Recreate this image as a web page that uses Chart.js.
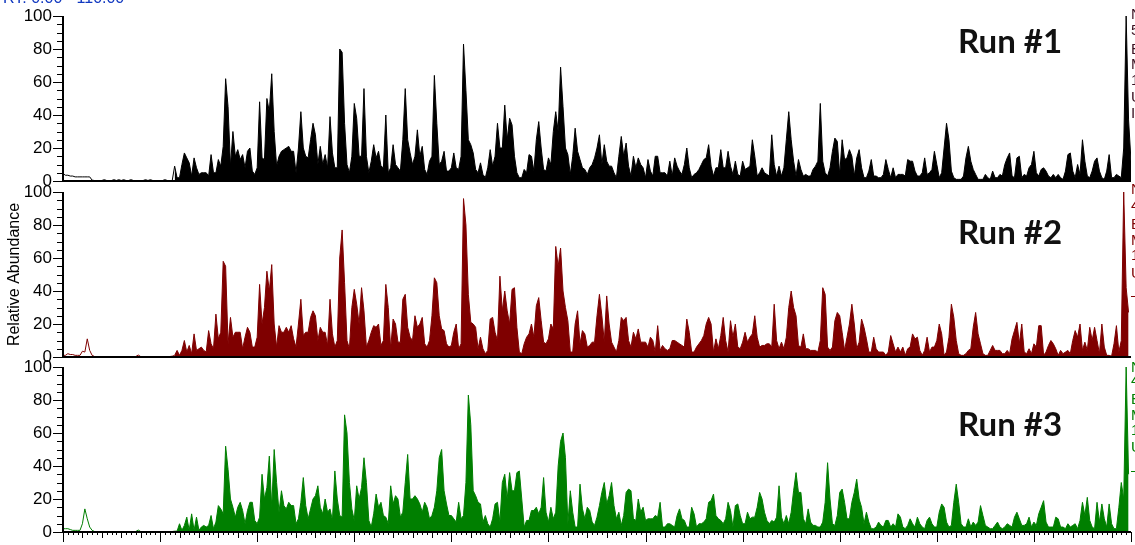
<!DOCTYPE html>
<html>
<head>
<meta charset="utf-8">
<title>Run chromatograms</title>
<script src="https://cdn.jsdelivr.net/npm/chart.js@4"></script>
<style>
    html, body { margin: 0; padding: 0; background: #fff; overflow: hidden; }
    #page { position: relative; width: 1135px; height: 545px; overflow: hidden; }
    canvas { position: absolute; left: 0; }
    .run { position: absolute; left: 958px; font: bold 33px Lato, sans-serif; color: #111; line-height: 40px; }
    .side { position: absolute; left: 1131px; font: 15px "Liberation Sans", Arial, sans-serif; line-height: 16px; }
    #rt { position: absolute; left: 3px; top: -11px; font: 16px "Liberation Sans", Arial, sans-serif; line-height: 18px; color: #1038c0; white-space: nowrap; }
</style>
</head>
<body>
<div id="page">
    <canvas id="run1" width="1135" height="192" style="top:0"></canvas>
    <canvas id="run2" width="1135" height="192" style="top:176px"></canvas>
    <canvas id="run3" width="1135" height="194" style="top:351px"></canvas>
    <div id="rt">RT: 0.00 - 110.00</div>
</div>
<script>
const binWidth = 0.25   // minutes per value
const rtMin = 0
const rtMax = 110
const yTickLabels = [0, 20, 40, 60, 80, 100]

// first part of each trace is only drawn as an outline
const run1Early = [4.5,3.5,3.5,3,3,2.5,2.5,2.5,2.5,2.5,2.5,2.5,0.5,0.3,0.3,0.3,0.3,0.8,0.3,0.3,0.3,0.8,0.3,0.8,0.3,0.8,0.3,0.3,0.8,0.3,0.3,0.3,0.3,0.3,0.8,0.3,0.8,0.3,0.3,0.3,0.3,0.3,0.8,0.3,0.3,0.3]
const run2Early = [1,1,2,1.5,1.5,1,1,1,3.5,3,11,4,1,0.3,0.3,0.3,0.3,0.3,0.3,0.3,0.3,0.3,0.3,0.3,0.3,0.3,0.3,0.3,0.3,0.3,0.3,1.2,0.3,0.3,0.3,0.3,0.3,0.3,0.3,0.3,0.3,0.3,0.3,0.3,0.3,0.5]
const run3Early = [2,2,2,1.5,1,1,1,1,5,14,8,3,1,0.3,0.3,0.3,0.3,0.3,0.3,0.3,0.3,0.3,0.3,0.3,0.3,0.3,0.3,0.3,0.3,0.3,0.3,1.2,0.3,0.3,0.3,0.3,0.3,0.3,0.3,0.3,0.3,0.3,0.3,0.3,0.3,0.3]

const run1Peaks = [
    9,2,2,10,17,14,11,3,14,8,4,5,5,5,3,16,5,5,13,9,21,62,45,9,30,15,19,13,16,8,18,20,6,4,8,48,14,13,50,42,
    65,30,9,15,18,19,20,21,18,18,5,20,42,20,15,14,25,35,28,10,21,10,16,8,39,17,8,8,80,78,35,10,5,15,47,38,15,15,56,15,
    5,12,22,14,18,9,8,40,5,8,22,10,8,6,25,56,25,17,10,15,31,15,21,7,4,12,15,64,35,10,12,18,6,6,8,17,8,7,15,83,
    55,25,22,17,7,5,11,4,2,8,19,9,15,35,20,20,46,25,38,34,15,5,2,2,7,5,16,15,6,25,36,20,7,6,14,10,30,42,30,69,
    45,20,16,4,15,32,18,13,8,7,4,8,10,14,20,28,10,22,12,9,9,5,2,15,27,15,23,9,3,15,8,14,10,8,2,13,6,3,15,15,
    5,5,5,3,12,3,14,9,6,4,10,20,8,2,4,5,7,10,13,14,22,9,3,8,8,19,8,8,18,9,4,12,4,3,12,7,8,9,25,15,3,5,
    8,5,4,3,28,10,3,9,3,8,25,42,25,12,3,13,7,3,4,3,3,7,9,12,47,12,5,3,8,18,26,24,4,25,13,14,19,15,3,14,19,8,2,2,
    6,13,3,3,2,2,4,13,7,2,8,2,4,4,4,3,13,12,12,6,3,3,5,14,4,5,7,18,10,2,5,20,35,25,6,2,1,1,1,3,14,21,12,7,4,1,
    1,1,4,2,1,6,2,2,4,3,10,14,17,3,2,14,15,2,4,3,8,10,18,5,3,7,8,6,3,2,4,2,4,2,1,6,16,17,6,2,10,4,25,12,3,2,6,12,14,6,
    2,1,6,16,2,2,4,3,2,20,100,37,12
]
const run2Peaks = [
    1,4,1,4,10,3,7,2,14,4,5,6,4,3,16,8,5,26,11,15,58,55,8,24,12,15,15,15,5,12,18,15,6,6,12,44,20,30,52,40,
    56,20,6,19,15,15,18,15,19,11,6,20,35,13,15,15,24,28,25,10,18,15,15,7,35,14,6,10,60,77,45,10,5,30,41,32,20,42,28,6,
    10,15,19,18,20,7,10,44,30,5,23,20,9,9,35,38,18,12,10,25,18,20,24,8,6,10,25,48,45,25,17,16,8,6,7,15,20,5,8,96,
    80,38,21,20,18,5,12,5,2,4,23,24,15,10,49,28,40,28,20,41,42,18,3,2,8,12,14,20,12,31,36,22,9,8,11,20,17,67,55,66,
    40,30,22,3,3,20,28,8,16,14,6,7,9,9,25,38,25,9,37,20,9,6,3,10,24,22,24,10,6,15,11,17,9,9,9,6,12,10,3,19,
    4,7,5,4,5,10,10,9,8,7,6,23,15,3,3,6,8,10,13,20,24,20,3,11,5,13,24,10,3,22,12,20,6,5,9,15,9,12,14,25,
    12,6,7,7,8,8,6,32,10,5,9,5,12,30,40,30,25,7,6,14,5,5,
    4,4,4,3,10,42,38,6,4,6,22,27,25,15,4,12,20,32,20,5,9,23,18,11,3,3,12,5,3,3,3,1,3,13,8,3,6,3,6,1,5,6,14,11,12,4,1,4,12,3,
    6,6,10,20,14,1,3,12,32,24,10,2,1,1,2,4,5,18,27,14,8,2,1,1,4,7,4,4,4,2,2,4,2,11,16,21,8,20,3,2,5,2,8,6,19,19,1,3,7,10,
    8,5,1,4,2,3,4,2,10,16,12,20,4,9,4,18,10,18,10,2,20,6,1,1,0.5,8,19,3,10,100,42,27
]
const run3Peaks = [
    0.5,0.5,5,1,4,9,1,11,1,9,1,3,4,3,4,10,2,6,16,14,11,52,38,20,15,9,15,18,13,5,13,18,18,7,5,9,35,20,27,46,
    15,50,30,12,25,16,14,18,16,16,5,8,18,33,16,8,14,20,22,28,15,11,20,12,14,7,37,20,10,9,71,60,30,14,7,28,20,27,45,30,
    7,3,11,23,15,18,10,9,5,28,17,22,20,9,12,30,47,20,20,22,20,17,12,18,15,8,10,15,25,45,50,25,17,10,10,8,6,18,8,10,
    30,83,65,25,22,18,17,6,10,5,3,8,17,18,6,30,35,20,36,25,25,36,37,20,3,7,7,13,13,15,11,15,33,12,6,15,8,12,40,55,
    60,45,5,25,12,3,3,29,14,8,15,13,6,4,9,16,24,30,17,22,30,16,8,12,4,10,24,26,25,8,7,20,12,15,7,8,8,8,10,9,
    18,3,3,5,5,4,3,10,14,8,7,3,3,15,11,3,5,5,6,8,18,19,23,10,8,7,5,8,18,13,3,16,17,10,5,5,12,8,9,9,15,24,20,12,7,5,7,6,9,28,9,5,10,5,12,25,36,24,24,8,5,14,
    6,4,4,3,3,6,18,42,20,5,4,10,24,26,18,8,8,18,24,32,20,15,5,12,6,2,2,3,6,4,3,7,7,3,5,3,11,9,3,2,4,8,5,3,9,5,3,2,7,9,
    5,3,3,12,17,15,6,3,4,18,29,18,5,3,3,8,3,6,4,6,16,10,4,3,2,2,4,6,3,2,3,5,4,3,9,12,8,4,4,5,9,3,
    6,4,11,15,19,6,3,3,3,9,8,3,3,2,5,3,4,5,2,7,18,10,21,7,3,2,18,6,17,8,3,17,5,2,2,15,30,20,100,35
]

const run1Values = run1Early.concat(run1Peaks)
const run2Values = run2Early.concat(run2Peaks)
const run3Values = run3Early.concat(run3Peaks)

const runLabels = ['Run #1', 'Run #2', 'Run #3']
const runLabelTops = [20, 211, 403]
const runColors = ['#000000', '#7f0000', '#007f00']
const runSideLetters = [
    ['N', '5', 'B', 'M', '1', 'U', 'I'],
    ['N', '4', 'B', 'M', '1', 'U', '–'],
    ['N', '4', 'B', 'M', '1', 'U', '–']
]
const runSideTops = [
    [6, 22, 41, 56, 72, 89, 105],
    [181, 197, 216, 232, 247, 265, 287],
    [359, 372, 391, 407, 422, 439, 462]
]

function toPoints(values, from, to) {
    let points = []
    for (let i = from; i < to && i < values.length; i++)
        points.push({ x: i * binWidth, y: values[i] })
    return points
}

// axis lines and the tick marks of different length
const tickMarks = {
    id: 'tickMarks',
    afterDraw(chart, args, opts) {
        const ctx = chart.ctx
        const yScale = chart.scales.y
        const xScale = chart.scales.x
        const left = chart.chartArea.left
        const bottom = yScale.getPixelForValue(0)

        ctx.save()
        ctx.strokeStyle = '#000'
        ctx.lineWidth = 1

        for (let v = 0; v <= 100; v += 5) {
            const y = Math.round(yScale.getPixelForValue(v)) + 0.5
            const len = v % 20 == 0 ? 10 : 6
            ctx.beginPath()
            ctx.moveTo(left - len, y)
            ctx.lineTo(left, y)
            ctx.stroke()
        }

        if (opts.showTime) {
            for (let t = rtMin; t <= rtMax; t += 0.5) {
                const x = Math.round(xScale.getPixelForValue(t)) + 0.5
                let len = 3
                if (t % 2 == 0) len = 6
                if (t % 10 == 0) len = 10
                ctx.beginPath()
                ctx.moveTo(x, bottom)
                ctx.lineTo(x, bottom + len)
                ctx.stroke()
            }
        }

        ctx.lineWidth = 2
        ctx.beginPath()
        ctx.moveTo(left, yScale.getPixelForValue(100))
        ctx.lineTo(left, bottom)
        ctx.lineTo(chart.chartArea.right, bottom)
        ctx.stroke()
        ctx.restore()
    }
}

function drawRun(id, values, earlyCount, color, pad, withTitle, showTime) {
    return new Chart(document.getElementById(id), {
        type: 'line',
        data: {
            datasets: [
                {
                    data: toPoints(values, 0, earlyCount + 1),
                    borderColor: color,
                    borderWidth: 1,
                    pointRadius: 0,
                    fill: false
                },
                {
                    data: toPoints(values, earlyCount, values.length),
                    borderColor: color,
                    backgroundColor: color,
                    borderWidth: 1,
                    pointRadius: 0,
                    fill: 'origin'
                }
            ]
        },
        options: {
            responsive: false,
            animation: false,
            events: [],
            layout: { autoPadding: false, padding: { top: pad.top, bottom: pad.bottom, left: 0, right: 4 } },
            plugins: {
                legend: { display: false },
                tooltip: { enabled: false },
                tickMarks: { showTime: showTime }
            },
            scales: {
                x: { type: 'linear', display: false, min: rtMin, max: rtMax },
                y: {
                    min: 0,
                    max: 100,
                    afterFit(scale) {
                        scale.width = 63
                        scale.paddingTop = 0
                        scale.paddingBottom = 0
                    },
                    grid: { display: false, drawTicks: false },
                    border: { display: false },
                    title: {
                        display: withTitle,
                        text: 'Relative Abundance',
                        color: '#000',
                        font: { family: '"Liberation Sans", Arial, sans-serif', size: 16 },
                        padding: { top: 5, bottom: 0 }
                    },
                    ticks: {
                        stepSize: 5,
                        autoSkip: false,
                        padding: 11,
                        color: '#000',
                        font: { family: '"Liberation Sans", Arial, sans-serif', size: 17 },
                        callback: v => yTickLabels.includes(v) ? String(v) : ''
                    }
                }
            }
        },
        plugins: [tickMarks]
    })
}

drawRun('run1', run1Values, 46, runColors[0], { top: 16, bottom: 11 }, false, false)
drawRun('run2', run2Values, 46, runColors[1], { top: 16, bottom: 11 }, true, false)
drawRun('run3', run3Values, 46, runColors[2], { top: 16, bottom: 13 }, false, true)

// overlay labels
const page = document.getElementById('page')
runLabels.forEach((text, r) => {
    let el = document.createElement('div')
    el.className = 'run'
    el.style.top = runLabelTops[r] + 'px'
    el.textContent = text
    page.appendChild(el)

    runSideLetters[r].forEach((letter, k) => {
        let side = document.createElement('div')
        side.className = 'side'
        side.style.top = runSideTops[r][k] + 'px'
        side.style.color = r == 0 ? '#3a1020' : runColors[r]
        side.textContent = letter
        page.appendChild(side)
    })
})

console.log(run1Values.length, run2Values.length, run3Values.length)
</script>
</body>
</html>
